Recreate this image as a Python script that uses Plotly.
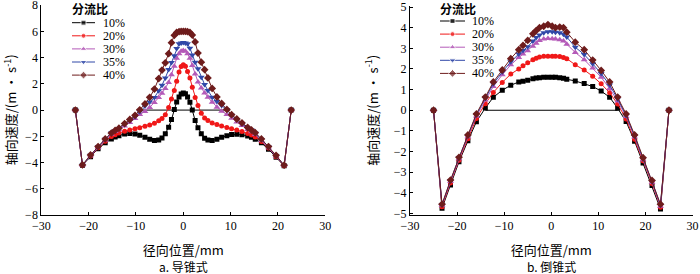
import plotly.graph_objects as go

# ---------------- data: panel a (导锥式) ----------------
xa = [-22.8, -21.3, -19.6, -18.0, -16.5, -15.2, -14.4, -13.6, -12.4, -11.3, -10.2, -9.2,
      -8.1, -7.1, -6.1, -5.2, -4.5, -3.8, -3.1, -2.5, -1.9, -1.4, -0.9, -0.45, 0,
      0.45, 0.9, 1.4, 1.9, 2.5, 3.1, 3.8, 4.5, 5.2, 6.1, 7.1, 8.1, 9.2, 10.2, 11.3,
      12.4, 13.6, 14.4, 15.2, 16.5, 18.0, 19.6, 21.3, 22.8]

a_10 = [0, -4.2, -3.55, -2.95, -2.5, -2.2, -2.05, -1.95, -1.82, -1.78, -1.82, -1.92,
        -2.08, -2.22, -2.32, -2.28, -2.12, -1.8, -1.3, -0.72, 0.05, 0.62, 1.0, 1.22, 1.3,
        1.24, 1.0, 0.6, 0.0, -0.8, -1.35, -1.8, -2.15, -2.28, -2.32, -2.22, -2.08, -1.95, -1.87, -1.85,
        -1.88, -1.98, -2.08, -2.22, -2.5, -2.98, -3.6, -4.25, 0]
a_20 = [0, -4.2, -3.5, -2.88, -2.38, -2.02, -1.88, -1.75, -1.62, -1.52, -1.43, -1.34,
        -1.24, -1.13, -1.0, -0.82, -0.65, -0.35, 0.2, 0.85, 1.5, 2.2, 2.9, 3.32, 3.45,
        3.35, 2.95, 2.45, 1.75, 0.95, 0.35, -0.25, -0.6, -0.8, -0.98, -1.1, -1.22, -1.33, -1.43, -1.52,
        -1.63, -1.78, -1.9, -2.05, -2.4, -2.9, -3.55, -4.25, 0]
a_30 = [0, -4.2, -3.48, -2.85, -2.3, -1.85, -1.63, -1.5, -1.22, -0.95, -0.65, -0.34,
        -0.1, 0.2, 0.57, 0.95, 1.28, 1.65, 2.1, 2.7, 3.35, 3.95, 4.3, 4.48, 4.55,
        4.48, 4.3, 3.95, 3.4, 2.75, 2.15, 1.68, 1.3, 0.98, 0.6, 0.22, -0.08, -0.34, -0.62, -0.9,
        -1.18, -1.48, -1.65, -1.87, -2.32, -2.88, -3.5, -4.22, 0]
a_35 = [0, -4.2, -3.45, -2.8, -2.22, -1.75, -1.55, -1.42, -1.1, -0.8, -0.5, -0.12,
        0.32, 0.62, 0.95, 1.48, 1.9, 2.45, 3.1, 3.62, 4.15, 4.7, 5.05, 5.12, 5.15,
        5.12, 5.05, 4.72, 4.2, 3.65, 3.15, 2.5, 1.95, 1.5, 0.98, 0.65, 0.35, 0.02, -0.4, -0.72,
        -1.05, -1.38, -1.52, -1.77, -2.25, -2.82, -3.48, -4.22, 0]
a_40 = [0, -4.18, -3.42, -2.78, -2.2, -1.75, -1.55, -1.38, -1.03, -0.72, -0.4, 0.02,
        0.47, 0.97, 1.6, 2.4, 3.05, 3.6, 4.3, 5.14, 5.7, 5.92, 5.98, 6.0, 6.0,
        6.0, 5.98, 5.92, 5.72, 5.2, 4.35, 3.65, 3.08, 2.45, 1.65, 1.0, 0.5, 0.05, -0.35, -0.68,
        -0.98, -1.33, -1.52, -1.73, -2.2, -2.78, -3.45, -4.2, 0]
zero_a_x = [-9.8, 9.9]
zero_a_y = [0, 0]

# ---------------- data: panel b (倒锥式) ----------------
xb = [-25.0, -23.2, -21.4, -19.6, -17.7, -15.9, -14.0, -12.3, -10.4, -8.6, -6.9, -6.0,
      -5.0, -3.9, -3.2, -2.5, -1.6, -0.7, 0.2, 0.9, 1.8, 2.6, 3.3, 5.1, 7.0, 8.8,
      10.6, 12.4, 14.1, 15.9, 17.7, 19.5, 21.4, 23.2, 25.0]

b_10 = [0, -4.75, -3.62, -2.5, -1.48, -0.56, 0.11, 0.63, 0.97, 1.21, 1.37, 1.41,
        1.45, 1.52, 1.56, 1.58, 1.6, 1.6, 1.6, 1.6, 1.58, 1.55, 1.5, 1.42, 1.3, 1.15,
        0.93, 0.63, 0.1, -0.55, -1.5, -2.55, -3.65, -4.78, 0]
b_20 = [0, -4.68, -3.52, -2.42, -1.38, -0.4, 0.32, 0.86, 1.35, 1.75, 2.0, 2.15,
        2.3, 2.45, 2.52, 2.58, 2.61, 2.62, 2.62, 2.61, 2.6, 2.55, 2.5, 2.2, 1.95, 1.65,
        1.28, 0.85, 0.3, -0.42, -1.4, -2.45, -3.55, -4.7, 0]
b_30 = [0, -4.62, -3.45, -2.35, -1.28, -0.28, 0.5, 1.15, 1.72, 2.2, 2.55, 2.72,
        2.88, 3.1, 3.25, 3.38, 3.45, 3.48, 3.46, 3.45, 3.42, 3.35, 3.2, 2.8, 2.45, 2.05,
        1.6, 1.05, 0.45, -0.3, -1.3, -2.4, -3.5, -4.65, 0]
b_35 = [0, -4.58, -3.42, -2.3, -1.23, -0.22, 0.58, 1.28, 1.85, 2.35, 2.72, 2.9,
        3.08, 3.35, 3.52, 3.65, 3.75, 3.8, 3.8, 3.78, 3.75, 3.68, 3.55, 3.05, 2.7, 2.25,
        1.78, 1.22, 0.55, -0.25, -1.25, -2.35, -3.45, -4.6, 0]
b_40 = [0, -4.55, -3.38, -2.28, -1.2, -0.18, 0.64, 1.37, 1.95, 2.5, 2.93, 3.14,
        3.38, 3.7, 3.86, 4.0, 4.07, 4.15, 4.07, 4.0, 4.03, 4.0, 3.78, 3.3, 2.93, 2.43,
        1.93, 1.37, 0.64, -0.18, -1.2, -2.3, -3.4, -4.55, 0]
zero_b_x = [-14.0, 14.1]
zero_b_y = [0, 0]

series_names = ["10%", "20%", "30%", "35%", "40%"]
legend_title = "分流比"
colors = ["#000000", "#f01818", "#b45ab8", "#3048a8", "#6e1c1c"]
symbols = ["square", "circle", "triangle-up", "triangle-down", "diamond"]
msizes = [5, 5, 6, 6, 6]

x_ticks = [-30, -20, -10, 0, 10, 20, 30]
ya_ticks = [-8, -6, -4, -2, 0, 2, 4, 6, 8]
yb_ticks = [-5, -4, -3, -2, -1, 0, 1, 2, 3, 4, 5]

SERIF = "Liberation Serif, Times New Roman, Noto Sans CJK SC, serif"
CJK = "Noto Sans CJK SC, Liberation Serif, sans-serif"

W, H = 700, 274

fig = go.Figure()

# zero lines (drawn first, behind curves)
fig.add_trace(go.Scatter(x=zero_a_x, y=zero_a_y, mode="lines", line=dict(color="#000000", width=1),
                         showlegend=False, hoverinfo="skip", xaxis="x", yaxis="y"))
fig.add_trace(go.Scatter(x=zero_b_x, y=zero_b_y, mode="lines", line=dict(color="#000000", width=1),
                         showlegend=False, hoverinfo="skip", xaxis="x2", yaxis="y2"))

for name, ya, yb, c, s, ms in zip(series_names, [a_10, a_20, a_30, a_35, a_40],
                                  [b_10, b_20, b_30, b_35, b_40], colors, symbols, msizes):
    fig.add_trace(go.Scatter(x=xa, y=ya, name=name, mode="lines+markers",
                             line=dict(color=c, width=1), marker=dict(symbol=s, size=ms, color=c),
                             xaxis="x", yaxis="y", showlegend=False))
    fig.add_trace(go.Scatter(x=xb, y=yb, name=name, mode="lines+markers",
                             line=dict(color=c, width=1), marker=dict(symbol=s, size=ms, color=c),
                             xaxis="x2", yaxis="y2", showlegend=False))

# ---- compact legends (layout: origin in pixels, row pitch) ----
annotations = []
legend_boxes = [  # (title_x, title_y, line_x0, line_x1, text_x, first_row_y)
    (70, 8, 72, 95, 101, 22.7),
    (438, 8, 440, 465, 470, 21.0),
]
ROW = 13.1
for (tx, ty, lx0, lx1, txx, ry0) in legend_boxes:
    annotations.append(dict(text="<b>" + legend_title + "</b>", x=tx, y=ty, xref="x3", yref="y3",
                            showarrow=False, xanchor="left", yanchor="middle",
                            font=dict(family=CJK, size=12, color="#000000")))
    for i, (name, c, s, ms) in enumerate(zip(series_names, colors, symbols, msizes)):
        yy = ry0 + i * ROW
        fig.add_trace(go.Scatter(x=[lx0, (lx0 + lx1) / 2, lx1], y=[yy, yy, yy], mode="lines+markers",
                                 line=dict(color=c, width=1),
                                 marker=dict(symbol=s, size=[0, ms, 0], color=c),
                                 xaxis="x3", yaxis="y3", showlegend=False, hoverinfo="skip",
                                 cliponaxis=False, name=name))
        annotations.append(dict(text=name, x=txx, y=yy, xref="x3", yref="y3", showarrow=False,
                                xanchor="left", yanchor="middle",
                                font=dict(family=SERIF, size=12, color="#000000")))

axis_common = dict(showline=True, linecolor="#000000", linewidth=1, ticks="inside", ticklen=3,
                   tickcolor="#000000", tickwidth=1, showgrid=False, zeroline=False,
                   automargin=False, ticklabeloverflow="allow",
                   tickfont=dict(family=SERIF, size=12, color="#000000"))

ytitle = "轴向速度/(m · s<sup>-1</sup>)"

annotations += [
    dict(text="a. 导锥式", x=(41.3 + 325.3) / 2 / W, y=1 - 266 / H, xref="paper", yref="paper",
         showarrow=False, font=dict(family=CJK, size=12), xanchor="center", yanchor="middle"),
    dict(text="b. 倒锥式", x=(410 + 692.5) / 2 / W, y=1 - 266 / H, xref="paper", yref="paper",
         showarrow=False, font=dict(family=CJK, size=12), xanchor="center", yanchor="middle"),
]

fig.update_layout(
    template="none",
    width=W, height=H, margin=dict(l=0, r=0, t=0, b=0, pad=0),
    paper_bgcolor="white", plot_bgcolor="rgba(0,0,0,0)", showlegend=False,
    font=dict(family=SERIF, size=12, color="#000000"),
    xaxis=dict(domain=[41.3 / W, 325.3 / W], range=[-30, 30], tickvals=x_ticks, anchor="y",
               title=dict(text="径向位置/mm", font=dict(family=CJK, size=13), standoff=13),
               **axis_common),
    yaxis=dict(domain=[1 - 215 / H, 1 - 4.5 / H], range=[-8, 8.05], tickvals=ya_ticks, anchor="x",
               title=dict(text=ytitle, font=dict(family=CJK, size=13), standoff=12),
               **axis_common),
    xaxis2=dict(domain=[410 / W, 692.5 / W], range=[-30, 30], tickvals=x_ticks, anchor="y2",
                title=dict(text="径向位置/mm", font=dict(family=CJK, size=13), standoff=13),
                **axis_common),
    yaxis2=dict(domain=[1 - 214.5 / H, 1 - 6 / H], range=[-5.05, 5.05], tickvals=yb_ticks, anchor="x2",
                title=dict(text=ytitle, font=dict(family=CJK, size=13), standoff=12),
                **axis_common),
    xaxis3=dict(domain=[0, 1], range=[0, W], visible=False, fixedrange=True, anchor="y3"),
    yaxis3=dict(domain=[0, 1], range=[H, 0], visible=False, fixedrange=True, anchor="x3"),
    annotations=annotations,
)

# remove the browser's default 8px page margin so the 700x274 figure fills the window exactly
fig.write_html("out.html", config={"displayModeBar": False},
               post_script="document.body.style.margin='0';document.body.style.overflow='hidden';")
